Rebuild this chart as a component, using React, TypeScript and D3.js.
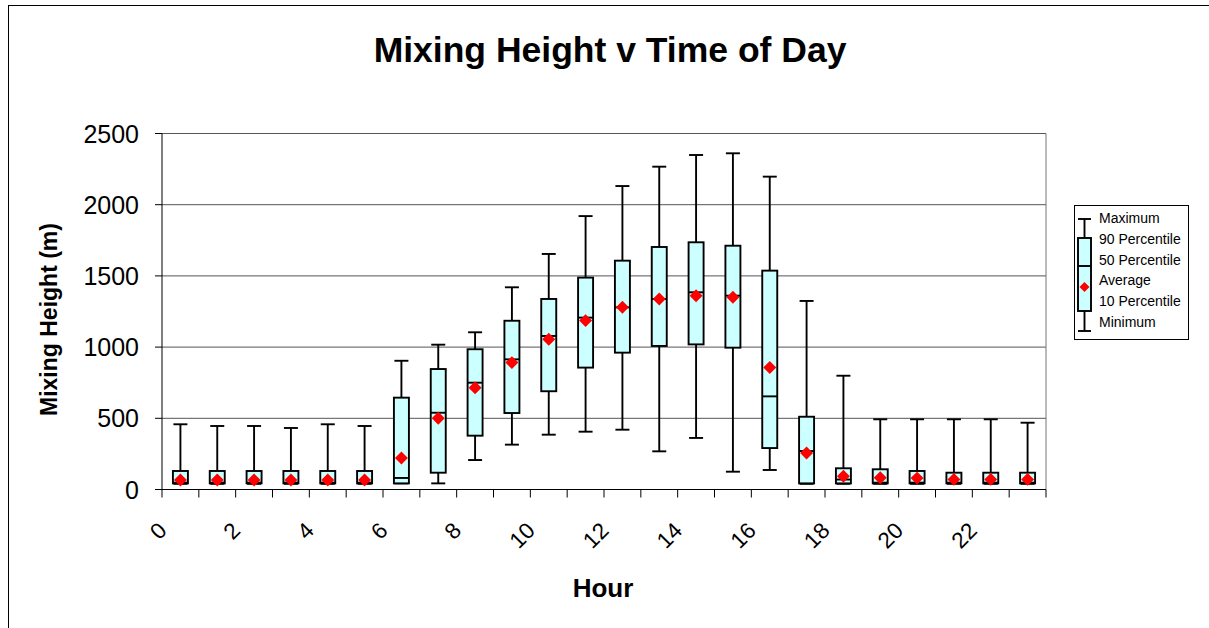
import { scaleLinear, symbol, symbolSquare, range } from "d3";

const hours = range(24);
const xTickLabels = [0, 2, 4, 6, 8, 10, 12, 14, 16, 18, 20, 22];
const yTicks = [0, 500, 1000, 1500, 2000, 2500];

const maxima = [458, 446, 446, 432, 458, 446, 904, 1017, 1104, 1420, 1654, 1920, 2131, 2267, 2349, 2361, 2197, 1324, 799, 493, 493, 493, 493, 469];
const p90 = [130, 130, 130, 130, 130, 130, 645, 846, 985, 1185, 1338, 1488, 1607, 1703, 1736, 1712, 1537, 511, 149, 142, 130, 118, 118, 118];
const p50 = [48, 48, 48, 48, 48, 48, 81, 539, 750, 914, 1078, 1207, 1279, 1338, 1385, 1361, 654, 270, 70, 48, 48, 48, 48, 48];
const averages = [67, 67, 67, 67, 67, 67, 221, 500, 715, 891, 1055, 1186, 1280, 1338, 1361, 1350, 856, 257, 93, 83, 80, 71, 71, 71];
const p10 = [43, 43, 43, 43, 43, 43, 43, 118, 378, 537, 690, 856, 961, 1008, 1019, 996, 291, 43, 43, 43, 43, 43, 43, 43];
const minima = [40, 40, 40, 40, 40, 40, 43, 43, 207, 315, 385, 406, 420, 268, 362, 125, 137, 40, 40, 40, 40, 40, 40, 40];

const legendItems = ["Maximum", "90 Percentile", "50 Percentile", "Average", "10 Percentile", "Minimum"];

const W = 1209;
const H = 628;
const plot = { left: 162, right: 1046, top: 133.5, bottom: 489.5 };
const font = "Liberation Sans, Arial, sans-serif";

export default function App() {
  const x = scaleLinear().domain([0, 24]).range([plot.left, plot.right]);
  const y = scaleLinear().domain([0, 2500]).range([plot.bottom, plot.top]);

  const diamond = symbol().type(symbolSquare).size(84)() ?? "";
  const boxW = 15;
  const capW = 14;
  const sw = 1.9;

  return (
    <svg
      width={W}
      height={H}
      style={{ position: "absolute", left: 0, top: 0, background: "#fff" }}
      fontFamily={font}
    >
      {/* chart border */}
      <rect x={8.5} y={5.5} width={W + 10} height={H + 10} fill="none" stroke="#000" strokeWidth={1} />

      <text x={610} y={62} textAnchor="middle" fontSize={35.5} fontWeight="bold">
        Mixing Height v Time of Day
      </text>

      {/* gridlines */}
      {yTicks.slice(1).map((t) => (
        <line key={t} x1={plot.left} x2={plot.right} y1={y(t)} y2={y(t)} stroke="#555" strokeWidth={1} />
      ))}
      <line x1={plot.right} x2={plot.right} y1={plot.top} y2={plot.bottom} stroke="#777" strokeWidth={1} />

      {/* y axis */}
      <line x1={plot.left} x2={plot.left} y1={plot.top} y2={plot.bottom} stroke="#000" strokeWidth={1} />
      {yTicks.map((t) => (
        <g key={t}>
          <line x1={plot.left - 7} x2={plot.left} y1={y(t)} y2={y(t)} stroke="#000" />
          <text x={139} y={y(t)} dy="0.36em" textAnchor="end" fontSize={25}>
            {t}
          </text>
        </g>
      ))}
      <text
        transform={`translate(57, ${(plot.top + plot.bottom) / 2 + 8}) rotate(-90)`}
        textAnchor="middle"
        fontSize={23}
        fontWeight="bold"
      >
        Mixing Height (m)
      </text>

      {/* x axis */}
      <line x1={plot.left - 7} x2={plot.right} y1={plot.bottom} y2={plot.bottom} stroke="#000" />
      {range(25).map((i) => (
        <line key={i} x1={x(i)} x2={x(i)} y1={plot.bottom} y2={plot.bottom + 8} stroke="#000" />
      ))}
      {xTickLabels.map((h) => (
        <text
          key={h}
          transform={`translate(${x(h) + 6}, 532) rotate(-45)`}
          textAnchor="end"
          fontSize={22.5}
        >
          {h}
        </text>
      ))}
      <text x={603} y={597} textAnchor="middle" fontSize={26} fontWeight="bold">
        Hour
      </text>

      {/* boxes */}
      {hours.map((h, i) => {
        const cx = x(h + 0.5);
        return (
          <g key={h}>
            <line x1={cx} x2={cx} y1={y(maxima[i])} y2={y(minima[i])} stroke="#000" strokeWidth={sw} />
            <line x1={cx - capW / 2} x2={cx + capW / 2} y1={y(maxima[i])} y2={y(maxima[i])} stroke="#000" strokeWidth={sw} />
            <line x1={cx - capW / 2} x2={cx + capW / 2} y1={y(minima[i])} y2={y(minima[i])} stroke="#000" strokeWidth={sw} />
            <rect
              x={cx - boxW / 2}
              y={y(p90[i])}
              width={boxW}
              height={y(p10[i]) - y(p90[i])}
              fill="#ccffff"
              stroke="#000"
              strokeWidth={sw}
            />
            <line x1={cx - boxW / 2} x2={cx + boxW / 2} y1={y(p50[i])} y2={y(p50[i])} stroke="#000" strokeWidth={sw} />
            <path d={diamond} transform={`translate(${cx}, ${y(averages[i])}) rotate(45)`} fill="#ff0000" />
          </g>
        );
      })}

      {/* legend */}
      <rect x={1074.5} y={205.5} width={114} height={134} fill="#fff" stroke="#000" strokeWidth={1} />
      <g stroke="#000" strokeWidth={sw}>
        <line x1={1084.5} x2={1084.5} y1={219} y2={331} />
        <line x1={1078} x2={1091} y1={219} y2={219} />
        <line x1={1078} x2={1091} y1={331} y2={331} />
        <rect x={1078} y={238} width={13} height={73} fill="#ccffff" />
        <line x1={1078} x2={1091} y1={266} y2={266} />
      </g>
      <path d={symbol().type(symbolSquare).size(50)() ?? ""} transform="translate(1084.5, 287) rotate(45)" fill="#ff0000" />
      {legendItems.map((label, i) => (
        <text key={label} x={1099} y={218 + i * 20.8} dy="0.35em" fontSize={14}>
          {label}
        </text>
      ))}
    </svg>
  );
}
